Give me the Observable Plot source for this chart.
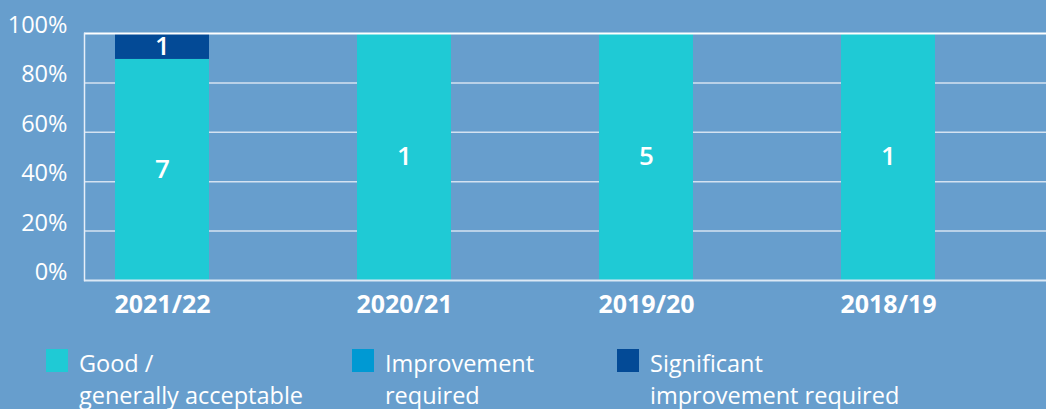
<!DOCTYPE html>
<html>
<head>
<meta charset="utf-8">
<script src="https://cdn.jsdelivr.net/npm/d3@7"></script>
<script src="https://cdn.jsdelivr.net/npm/@observablehq/plot@0.6"></script>
<style>
  html, body { margin: 0; padding: 0; background: #679ecd; }
  body { width: 1046px; height: 409px; overflow: hidden; font-family: "Open Sans", sans-serif; }
  #chart svg { display: block; }
  #legend { position: relative; height: 70px; margin-top: 12px; }
  .item { position: absolute; top: 0; color: #ffffff; font-size: 23.5px; line-height: 32px; }
  .swatch { position: absolute; left: 0; top: 2px; width: 22px; height: 23px; }
  .label { position: absolute; left: 33px; top: 0; white-space: nowrap; }
</style>
</head>
<body>
<div id="chart"></div>
<div id="legend"></div>
<script>
const years = ["2021/22", "2020/21", "2019/20", "2018/19"];
const categories = ["Good / generally acceptable", "Improvement required", "Significant improvement required"];
const legendLines = [["Good /", "generally acceptable"], ["Improvement", "required"], ["Significant", "improvement required"]];
const colors = ["#1fcad5", "#0099d3", "#034a96"];
// counts shown as labels
const goodCount = [7, 1, 5, 1];
const improvementCount = [0, 0, 0, 0];
const significantCount = [1, 0, 0, 0];
// bar heights (percent)
const goodPct = [89.5, 100, 100, 100];
const improvementPct = [0, 0, 0, 0];
const significantPct = [10.5, 0, 0, 0];
const yTicks = [0, 20, 40, 60, 80, 100];

const counts = [goodCount, improvementCount, significantCount];
const pcts = [goodPct, improvementPct, significantPct];
const rows = [];
years.forEach((year, i) => {
  categories.forEach((cat, j) => {
    rows.push({year, category: cat, pct: pcts[j][i], count: counts[j][i]});
  });
});

const plot = Plot.plot({
  width: 1046,
  height: 335,
  marginLeft: 84,
  marginRight: 0,
  marginTop: 33,
  marginBottom: 55,
  style: {background: "transparent", color: "white", fontFamily: "Open Sans, sans-serif", overflow: "visible"},
  x: {domain: years, range: [84, 965], paddingInner: 0.612, paddingOuter: 0.124, label: null},
  y: {domain: [0, 100], label: null},
  color: {domain: categories, range: colors},
  marks: [
    Plot.gridY(yTicks.filter(d => d > 0 && d < 100), {stroke: "#d4e2f1", strokeOpacity: 1, strokeWidth: 1.5}),
    Plot.barY(rows, Plot.stackY({x: "year", y: "pct", fill: "category", order: null})),
    Plot.text(rows, Plot.stackY({
      filter: d => d.count > 0,
      x: "year", y: "pct", z: "category", text: "count",
      fill: "white", fontSize: 26, fontWeight: 600
    })),
    Plot.ruleY([100], {stroke: "white", strokeWidth: 2}),
    Plot.ruleY([0], {stroke: "#dbe8f5", strokeWidth: 2}),
    Plot.frame({anchor: "left", stroke: "#e6eef8", strokeWidth: 1.5}),
    Plot.axisY({ticks: yTicks, tickSize: 0, tickPadding: 17, tickFormat: d => d + "%", fontSize: 23.5, dy: -8, fill: "white"}),
    Plot.axisX({tickSize: 0, tickPadding: 15, fontSize: 25, fontWeight: "bold", fill: "white"})
  ]
});
document.getElementById("chart").appendChild(plot);

const colorScale = plot.scale("color");
const legend = document.getElementById("legend");
const lefts = [46, 352, 617];
categories.forEach((cat, j) => {
  const item = document.createElement("div");
  item.className = "item";
  item.style.left = lefts[j] + "px";
  const sw = document.createElement("div");
  sw.className = "swatch";
  sw.style.background = colorScale.apply(cat);
  const lab = document.createElement("div");
  lab.className = "label";
  lab.innerHTML = legendLines[j].join("<br>");
  item.appendChild(sw);
  item.appendChild(lab);
  legend.appendChild(item);
});
</script>
</body>
</html>
